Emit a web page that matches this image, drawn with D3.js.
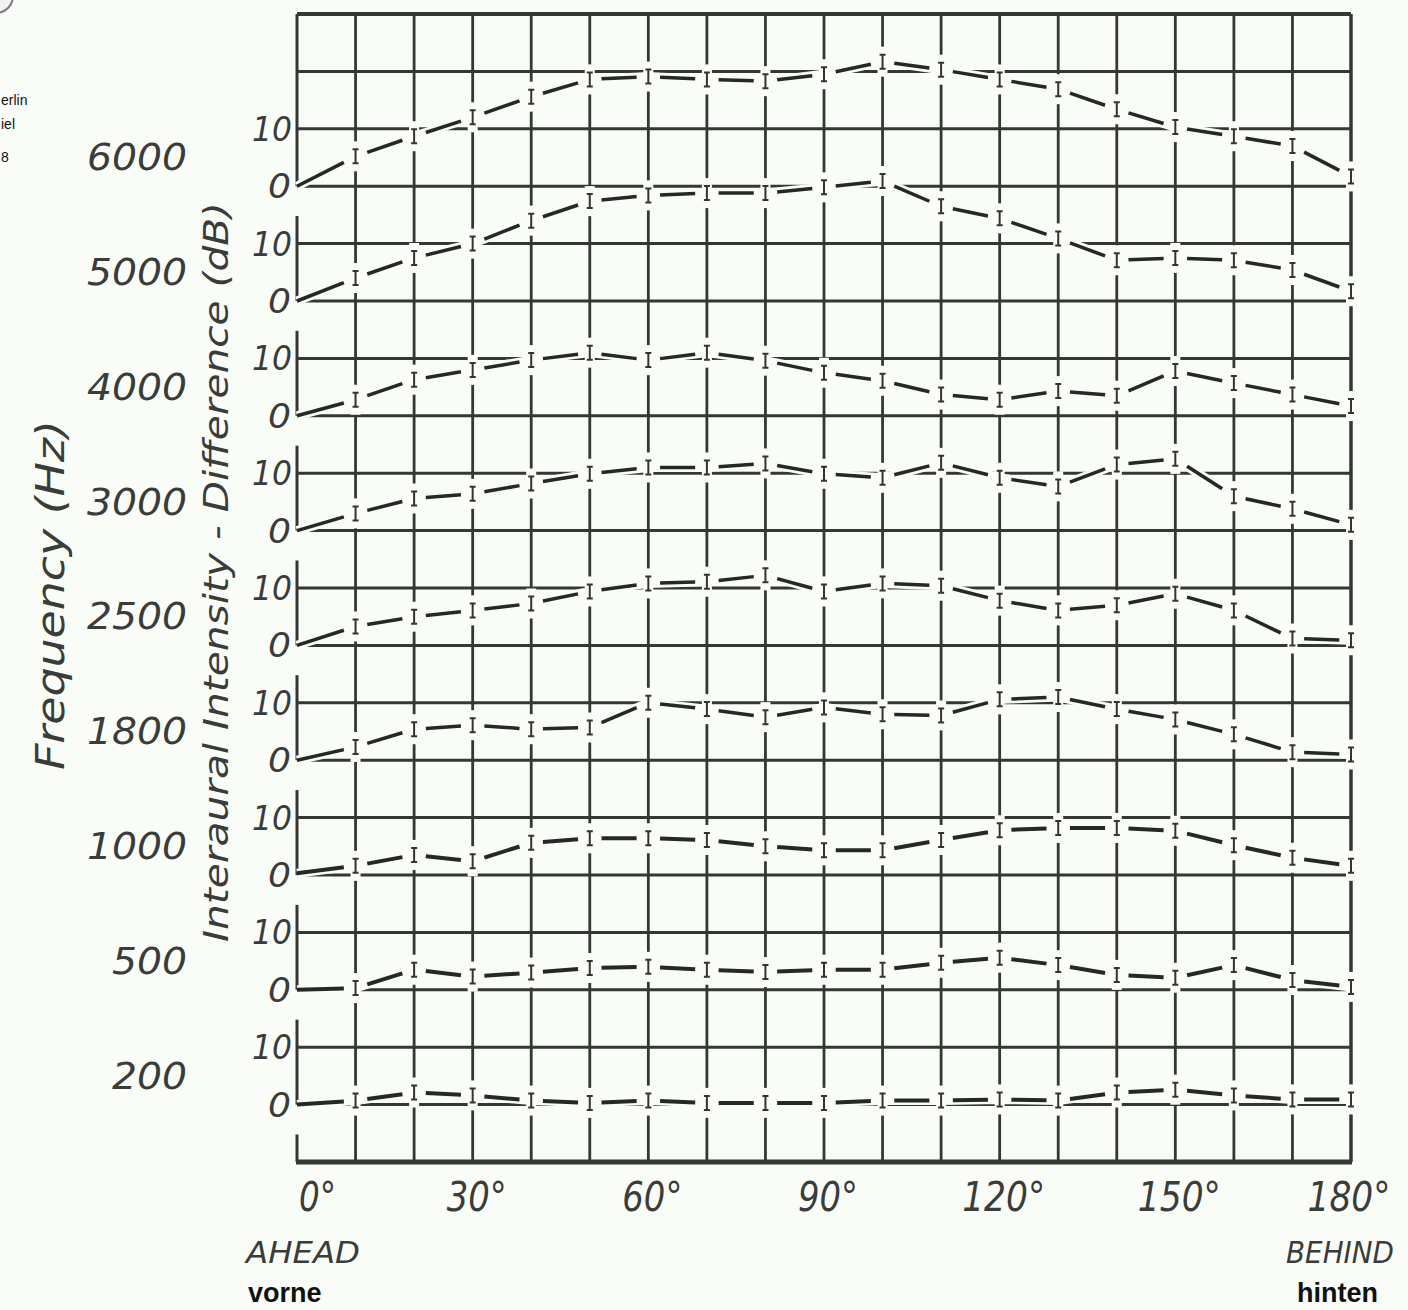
<!DOCTYPE html>
<html>
<head>
<meta charset="utf-8">
<script src="https://cdn.jsdelivr.net/npm/d3@7"></script>
<style>
  html, body { margin: 0; padding: 0; background: #fafcf8; }
  svg { display: block; }
  .lbl { font-family: "DejaVu Sans", sans-serif; font-style: italic; fill: #3a3c3a; }
</style>
</head>
<body>
<svg id="chart" width="1408" height="1310"></svg>
<script>
// angle of the sound source, degrees
const angles = [0, 10, 20, 30, 40, 50, 60, 70, 80, 90, 100, 110, 120, 130, 140, 150, 160, 170, 180];
const angleTicks = [0, 30, 60, 90, 120, 150, 180];

// frequency bands, top to bottom
const frequencies = ["6000", "5000", "4000", "3000", "2500", "1800", "1000", "500", "200"];

// interaural intensity difference (dB) per band, read at every 10 degrees
const iid6000 = [0, 5.2, 8.7, 12, 15.6, 18.6, 19.1, 18.6, 18.3, 19.5, 21.7, 20.3, 18.6, 16.9, 13.4, 10.3, 8.7, 7, 1.7];
const iid5000 = [0, 4, 7.5, 10, 14, 17.4, 18.4, 18.8, 18.8, 19.8, 20.9, 16.5, 14.4, 10.9, 7.1, 7.5, 7.1, 5.4, 1.7];
const iid4000 = [0, 2.8, 6.3, 8, 9.7, 11, 9.7, 11, 9.6, 7.5, 6.1, 3.7, 2.8, 4.3, 3.5, 7.8, 5.7, 3.7, 1.7];
const iid3000 = [0, 3, 5.6, 6.4, 8.2, 9.9, 11, 11, 11.7, 9.9, 9.2, 11.8, 9.2, 7.7, 11.5, 12.5, 6, 3.8, 1];
const iid2500 = [0, 3.3, 5, 6.1, 7.3, 9.4, 10.8, 11.1, 12.2, 9.4, 10.8, 10.4, 7.8, 6.1, 7, 9, 6.1, 1.2, 0.9];
const iid1800 = [0, 2.3, 5.4, 6.1, 5.4, 5.7, 10, 8.9, 7.5, 9.2, 8, 7.8, 10.6, 11, 8.9, 7.1, 4.5, 1.4, 1];
const iid1000 = [0.3, 1.6, 3.5, 2.4, 5.6, 6.4, 6.4, 6.1, 5, 4.3, 4.3, 6.1, 7.8, 8.2, 8.2, 7.7, 5.2, 3, 1.6];
const iid500 = [0, 0.3, 3.5, 2.3, 3, 3.8, 4, 3.5, 3.1, 3.5, 3.5, 4.7, 5.6, 4.3, 2.6, 2.1, 4.3, 1.7, 0.5];
const iid200 = [0, 0.7, 2.1, 1.6, 0.7, 0.3, 0.7, 0.3, 0.3, 0.3, 0.7, 0.7, 0.9, 0.7, 2.1, 2.6, 1.6, 0.9, 0.9];

const series = [iid6000, iid5000, iid4000, iid3000, iid2500, iid1800, iid1000, iid500, iid200];

const bg = "#fafcf8";
const ink = "#353735";

const svg = d3.select("#chart");
svg.append("rect").attr("width", 1408).attr("height", 1310).attr("fill", bg);

// scales: x by angle, grid rows (20 rows), dB inside a band
const x = d3.scaleLinear().domain([0, 180]).range([297, 1351]);
const row = d3.scaleLinear().domain([0, 20]).range([14, 1162]);
const rowH = row(1) - row(0);
const db = d3.scaleLinear().domain([0, 10]).range([0, -rowH]);
const zeroY = i => row(3 + 2 * i);

const grid = svg.append("g").attr("stroke", ink);

// horizontal grid lines
grid.selectAll("line.h")
  .data(d3.range(1, 20))
  .join("line")
  .attr("class", "h")
  .attr("x1", x(0)).attr("x2", x(180))
  .attr("y1", d => row(d)).attr("y2", d => row(d))
  .attr("stroke-width", 3);

// vertical grid lines
grid.selectAll("line.v")
  .data(angles.slice(1))
  .join("line")
  .attr("class", "v")
  .attr("x1", d => x(d)).attr("x2", d => x(d))
  .attr("y1", row(0)).attr("y2", row(20))
  .attr("stroke-width", d => d === 180 ? 3.5 : 2.8);

// left edge: broken just below each band's zero line
const leftSegs = [[row(0), zeroY(0)]];
frequencies.forEach((f, i) => {
  const top = zeroY(i) + rowH * 0.52;
  const bottom = i < frequencies.length - 1 ? zeroY(i + 1) : row(20);
  leftSegs.push([top, bottom]);
});
grid.selectAll("line.l")
  .data(leftSegs)
  .join("line")
  .attr("class", "l")
  .attr("x1", x(0)).attr("x2", x(0))
  .attr("y1", d => d[0]).attr("y2", d => d[1])
  .attr("stroke-width", 3);

// top and bottom borders
grid.append("line").attr("x1", x(0)).attr("x2", x(180))
  .attr("y1", row(0)).attr("y2", row(0)).attr("stroke-width", 4);
grid.append("line").attr("x1", x(0) - 1).attr("x2", x(180) + 1)
  .attr("y1", row(20)).attr("y2", row(20)).attr("stroke-width", 5);

// series
const bands = svg.append("g");
series.forEach((vals, i) => {
  const pts = angles.map((a, k) => [x(a), zeroY(i) + db(vals[k])]);
  const g = bands.append("g");

  // white halo cutting the grid
  g.append("path")
    .attr("d", d3.line()(pts))
    .attr("fill", "none")
    .attr("stroke", bg)
    .attr("stroke-width", 9)
    .attr("stroke-linejoin", "round");

  // one dash per segment
  g.selectAll("line.dash")
    .data(d3.pairs(pts))
    .join("line")
    .attr("class", "dash")
    .each(function([p, q], j) {
      const t0 = j === 0 ? 0 : 0.2, t1 = 0.8;
      d3.select(this)
        .attr("x1", p[0] + (q[0] - p[0]) * t0).attr("y1", p[1] + (q[1] - p[1]) * t0)
        .attr("x2", p[0] + (q[0] - p[0]) * t1).attr("y2", p[1] + (q[1] - p[1]) * t1);
    })
    .attr("stroke", "#262826")
    .attr("stroke-width", i >= 6 ? 4 : 3.5);

  // "I" markers at each grid angle
  const m = g.selectAll("g.mk")
    .data(pts.slice(1))
    .join("g")
    .attr("class", "mk")
    .attr("transform", d => `translate(${d[0]},${d[1]})`);
  m.append("rect")
    .attr("x", -5).attr("y", -15).attr("width", 10).attr("height", 30)
    .attr("fill", bg);
  m.append("path")
    .attr("d", "M-3,-7H3M0,-7V7M-3,7H3")
    .attr("fill", "none")
    .attr("stroke", "#333")
    .attr("stroke-width", 2);
});

// band labels: frequency, 10 and 0
const labels = svg.append("g").attr("class", "lbl");
frequencies.forEach((f, i) => {
  labels.append("text")
    .attr("x", 187).attr("y", zeroY(i) - 16)
    .attr("text-anchor", "end")
    .attr("font-size", 37)
    .attr("textLength", f.length * 25)
    .attr("lengthAdjust", "spacingAndGlyphs")
    .text(f);
  labels.append("text")
    .attr("x", 292).attr("y", zeroY(i) + db(10) + 12)
    .attr("text-anchor", "end")
    .attr("font-size", 34)
    .attr("textLength", 40)
    .attr("lengthAdjust", "spacingAndGlyphs")
    .text("10");
  labels.append("text")
    .attr("x", 291).attr("y", zeroY(i) + 12)
    .attr("text-anchor", "end")
    .attr("font-size", 34)
    .attr("textLength", 23)
    .attr("lengthAdjust", "spacingAndGlyphs")
    .text("0");
});

// axis titles
labels.append("text")
  .attr("transform", "translate(64,595) rotate(-90)")
  .attr("text-anchor", "middle")
  .attr("font-size", 39)
  .attr("textLength", 350)
  .attr("lengthAdjust", "spacingAndGlyphs")
  .text("Frequency (Hz)");
labels.append("text")
  .attr("transform", "translate(228,572) rotate(-90)")
  .attr("text-anchor", "middle")
  .attr("font-size", 34)
  .attr("textLength", 740)
  .attr("lengthAdjust", "spacingAndGlyphs")
  .text("Interaural Intensity - Difference (dB)");

// angle ticks
labels.selectAll("text.tick")
  .data(angleTicks)
  .join("text")
  .attr("class", "tick")
  .attr("x", d => d === 0 ? x(d) + 2 : (d === 180 ? x(d) - 2 : x(d) + 4))
  .attr("y", 1211)
  .attr("text-anchor", d => d === 0 ? "start" : "middle")
  .attr("font-size", 40)
  .attr("textLength", d => String(d).length * 23 + 14)
  .attr("lengthAdjust", "spacingAndGlyphs")
  .text(d => d + "°");

labels.append("text")
  .attr("x", 246).attr("y", 1263)
  .attr("font-size", 31)
  .attr("textLength", 114)
  .attr("lengthAdjust", "spacingAndGlyphs")
  .text("AHEAD");
labels.append("text")
  .attr("x", 1286).attr("y", 1263)
  .attr("font-size", 31)
  .attr("textLength", 108)
  .attr("lengthAdjust", "spacingAndGlyphs")
  .text("BEHIND");

// German captions
const cap = svg.append("g")
  .attr("font-family", "'Liberation Sans Narrow', 'Liberation Sans', sans-serif")
  .attr("font-weight", "bold")
  .attr("font-size", 27)
  .attr("fill", "#111");
cap.append("text").attr("x", 248).attr("y", 1302).text("vorne");
cap.append("text").attr("x", 1297).attr("y", 1302).text("hinten");

// remains at the top-left corner
svg.append("circle")
  .attr("cx", -4).attr("cy", -4).attr("r", 17)
  .attr("fill", "#f2f2f2").attr("stroke", "#777").attr("stroke-width", 2);
const side = svg.append("g")
  .attr("font-family", "'Liberation Sans', Arial, sans-serif")
  .attr("font-size", 14)
  .attr("fill", "#111");
side.append("text").attr("x", 1).attr("y", 105).text("erlin");
side.append("text").attr("x", 1).attr("y", 129).text("iel");
side.append("text").attr("x", 1).attr("y", 162).text("8");
</script>
</body>
</html>
